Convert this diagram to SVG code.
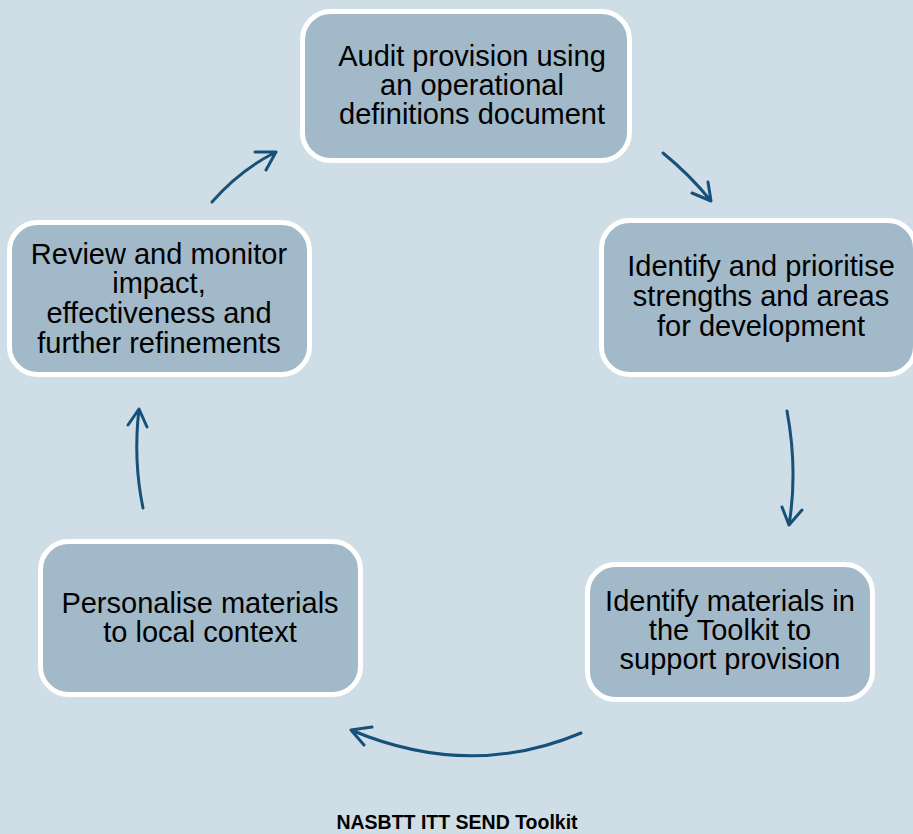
<svg xmlns="http://www.w3.org/2000/svg" width="913" height="834" viewBox="0 0 913 834">
<style>
.box{fill:#A2B9C9;stroke:#FFFFFF;stroke-width:5}
.t{font-family:"Liberation Sans",Arial,sans-serif;font-size:29px;fill:#000;text-anchor:middle}
.c{fill:none;stroke:#17517A;stroke-width:3;stroke-linecap:round;stroke-linejoin:round}
.title{font-family:"Liberation Sans",Arial,sans-serif;font-size:19.5px;font-weight:bold;fill:#000;text-anchor:middle}
</style>
<rect width="913" height="834" fill="#CFDDE6"/>
<g id="n1">
<rect class="box" x="302.5" y="11.5" width="327" height="149" rx="28"/>
<text class="t" x="472" y="66">Audit provision using</text>
<text class="t" x="472" y="95">an operational</text>
<text class="t" x="472" y="124">definitions document</text>
</g>
<g id="n2">
<rect class="box" x="601.5" y="220.5" width="314" height="154" rx="28"/>
<text class="t" x="761" y="276">Identify and prioritise</text>
<text class="t" x="761" y="306">strengths and areas</text>
<text class="t" x="761" y="336">for development</text>
</g>
<g id="n3">
<rect class="box" x="587.5" y="564.5" width="285" height="135" rx="28"/>
<text class="t" x="730" y="611">Identify materials in</text>
<text class="t" x="730" y="640">the Toolkit to</text>
<text class="t" x="730" y="669">support provision</text>
</g>
<g id="n4">
<rect class="box" x="40.5" y="541.5" width="320" height="153" rx="28"/>
<text class="t" x="200" y="613">Personalise materials</text>
<text class="t" x="200" y="642">to local context</text>
</g>
<g id="n5">
<rect class="box" x="9.5" y="222.5" width="300" height="152" rx="28"/>
<text class="t" x="159" y="264">Review and monitor</text>
<text class="t" x="159" y="293">impact,</text>
<text class="t" x="159" y="323">effectiveness and</text>
<text class="t" x="159" y="353">further refinements</text>
</g>
<g id="connectors">
<path class="c" d="M663,153 Q690,175 711,201 M692,193 L711,201 L708,182"/>
<path class="c" d="M787,411 Q798,470 789,525 M782,507 L789,525 L802,510"/>
<path class="c" d="M581,733 Q470,780 351,730 M372,727 L351,730 L364,745"/>
<path class="c" d="M143,508 Q133,460 139,409 M128,425 L139,409 L147,427"/>
<path class="c" d="M212,202 Q240,170 276,152 M255,152 L276,152 L266,170"/>
</g>
<text class="title" x="457" y="829">NASBTT ITT SEND Toolkit</text>
</svg>
